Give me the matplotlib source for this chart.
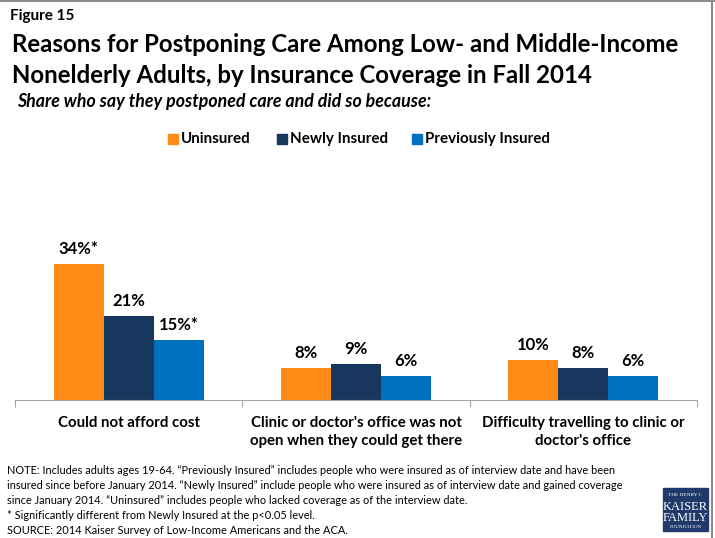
import matplotlib
matplotlib.use('Agg')
import matplotlib.pyplot as plt
from matplotlib.patches import Rectangle
from matplotlib.lines import Line2D
import numpy as np

plt.rcParams['font.family'] = ['Lato', 'DejaVu Sans']

categories = ['Could not afford cost',
              "Clinic or doctor's office was not\nopen when they could get there",
              "Difficulty travelling to clinic or\ndoctor's office"]
series = ['Uninsured', 'Newly Insured', 'Previously Insured']
uninsured = [34, 8, 10]
newly_insured = [21, 9, 8]
previously_insured = [15, 6, 6]
value_labels = [['34%*', '8%', '10%'],
                ['21%', '9%', '8%'],
                ['15%*', '6%', '6%']]
colors = ['#FF8A16', '#17375E', '#0070C0']

W, H = 715, 538
fig = plt.figure(figsize=(W / 100, H / 100), dpi=100)

def fy(px):
    # pixel row from the top -> figure fraction
    return 1 - px / H

def fx(px):
    return px / W

# frame lines at top and right
fig.add_artist(Line2D([0, 1], [fy(1), fy(1)], color='#8C8C8C', lw=1.5))
fig.add_artist(Line2D([fx(712), fx(712)], [0, 1], color='#8C8C8C', lw=1.5))

fig.text(fx(10), fy(20), 'Figure 15', fontsize=11, fontweight='bold', va='baseline')
fig.text(fx(12), fy(52), 'Reasons for Postponing Care Among Low- and Middle-Income',
         fontsize=17.3, fontweight='bold', va='baseline')
fig.text(fx(12), fy(83), 'Nonelderly Adults, by Insurance Coverage in Fall 2014',
         fontsize=17.3, fontweight='bold', va='baseline')
fig.text(fx(17), fy(107), 'Share who say they postponed care and did so because:',
         fontsize=12.8, fontweight='bold', style='italic', va='baseline')

ax = fig.add_axes([fx(15), fy(400), fx(682), 160 / H])
x = np.arange(len(categories))
width = 0.22
data = [uninsured, newly_insured, previously_insured]
for i, (vals, name, c) in enumerate(zip(data, series, colors)):
    pos = x + (i - 1) * width
    ax.bar(pos, vals, width, color=c, label=name)
    for p, v, lab in zip(pos, vals, value_labels[i]):
        ax.annotate(lab, (p, v), xytext=(0, 5), textcoords='offset points',
                    ha='center', va='bottom', fontsize=12, fontweight='bold')

ax.set_xlim(-0.5, 2.5)
ax.set_ylim(0, 40)
for s in ['top', 'right', 'left']:
    ax.spines[s].set_visible(False)
ax.spines['bottom'].set_color('#A6A6A6')
ax.set_yticks([])
ax.set_xticks([-0.5, 0.5, 1.5, 2.5])
ax.set_xticklabels([])
ax.tick_params(axis='x', length=5, color='#A6A6A6', direction='out')
for xi, cat in zip(x, categories):
    ax.annotate(cat, (xi, 0), xytext=(0, -11.5), textcoords='offset points',
                ha='center', va='top', fontsize=10.8, fontweight='bold',
                linespacing=1.4)

# legend row
leg_x = [168, 277, 412]
for lx, name, c in zip(leg_x, series, colors):
    fig.add_artist(Rectangle((fx(lx), fy(144)), fx(10), 10 / H, color=c))
    fig.text(fx(lx + 13), fy(139), name, fontsize=10.9, fontweight='bold', va='center')

notes = [
    'NOTE: Includes adults ages 19-64. \u201cPreviously Insured\u201d includes people who were insured as of interview date and have been',
    'insured since before January 2014. \u201cNewly Insured\u201d include people who were insured as of interview date and gained coverage',
    'since January 2014. \u201cUninsured\u201d includes people who lacked coverage as of the interview date.',
    '* Significantly different from Newly Insured at the p<0.05 level.',
    'SOURCE: 2014 Kaiser Survey of Low-Income Americans and the ACA.',
]
for k, line in enumerate(notes):
    fig.text(fx(7), fy(474 + 15 * k), line, fontsize=7.9, va='baseline')

# foundation logo
fig.add_artist(Rectangle((fx(663), fy(531)), fx(45), 43 / H, color='#1F3A6B'))
logo = [('THE HENRY J.', 3.8, 495), ('KAISER', 9, 507), ('FAMILY', 9, 518), ('FOUNDATION', 3.6, 527)]
for txt, sz, py in logo:
    fig.text(fx(685.5), fy(py), txt, fontsize=sz, color='white', ha='center',
             va='center', family='Liberation Serif')

fig.savefig('out.png', dpi=100)
